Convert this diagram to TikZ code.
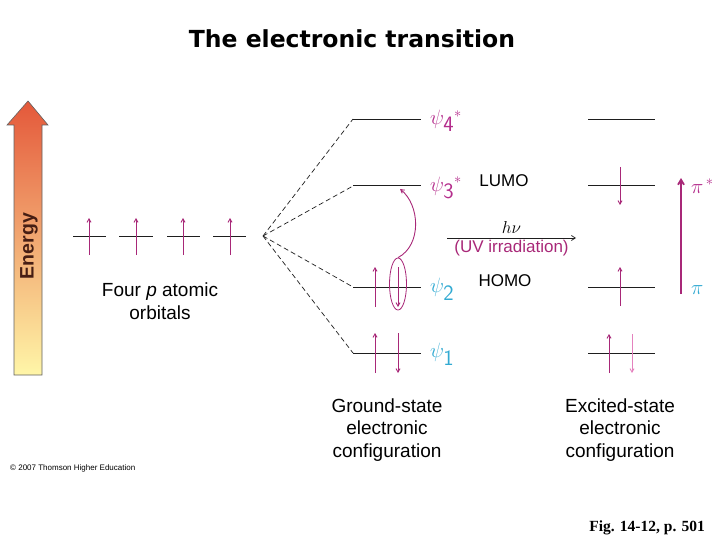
\documentclass[tikz,border=0pt]{standalone}
\usepackage{fontspec}
\usepackage{tikz}
\usetikzlibrary{arrows.meta,shapes.geometric}
\newfontfamily\labfont{Liberation Sans}
\newfontfamily\titlefont{DejaVu Sans}
\newfontfamily\figfont{Liberation Serif}
\definecolor{figline}{RGB}{30,30,30}
\definecolor{elmag}{RGB}{168,40,120}
\definecolor{elpale}{RGB}{228,130,190}
\definecolor{lbmag}{RGB}{180,45,140}
\definecolor{lbcyan}{RGB}{50,170,210}
\definecolor{entop}{RGB}{228,88,58}
\definecolor{enbot}{RGB}{255,246,168}
\definecolor{entext}{RGB}{70,30,20}
\tikzset{
  lvl/.style  ={draw=figline, line width=1pt},
  lvlt/.style ={draw=figline, line width=0.7pt},
  cor/.style  ={draw=figline, line width=0.7pt, dash pattern=on 5pt off 3pt},
  eup/.style  ={draw=elmag, line width=0.9pt, -{Straight Barb[length=3.5pt,width=4pt]}},
  epl/.style  ={draw=elpale, line width=0.9pt, -{Straight Barb[length=3.5pt,width=4pt]}},
  lab/.style  ={font=\labfont\fontsize{19}{22.5}\selectfont, inner sep=1pt, align=center},
  labs/.style ={font=\labfont\fontsize{17}{19}\selectfont, inner sep=1pt},
  mol/.style  ={font=\fontsize{22}{24}\selectfont, inner sep=1pt, anchor=west},
}

\begin{document}
\begin{tikzpicture}[x=1pt,y=-1pt]
  \useasboundingbox (0,0) rectangle (720,540);
  % title
  \node[font=\titlefont\bfseries\fontsize{23.5}{26}\selectfont] (title) at (352,39) {The electronic transition};
  % energy arrow
  \shade[top color=entop,bottom color=enbot] (14,375) -- (14,125) -- (7,125) -- (28,101) -- (48,125) -- (42,125) -- (42,375) -- cycle;
  \draw[draw=figline!70,line width=0.6pt] (14,375) -- (14,125) -- (7,125) -- (28,101) -- (48,125) -- (42,125) -- (42,375) -- cycle;
  \node[font=\labfont\bfseries\fontsize{19.5}{21}\selectfont,text=entext,rotate=90] (energy) at (29,246) {Energy};
  % four p atomic orbitals
  \foreach \xa/\xb/\xe in {73/106/89, 119/153/136, 167/200/183, 213/246/230}{
    \draw[lvlt] (\xa,236) -- (\xb,236);
    \draw[eup] (\xe,255) -- (\xe,218);
  }
  \node[lab] (fourp) at (160,301) {Four \textit{p} atomic\\orbitals};
  % ground state levels
  \coordinate (conv) at (263,236);
  \coordinate (g4l) at (353,119); \coordinate (g4r) at (421,119);
  \coordinate (g3l) at (353,186); \coordinate (g3r) at (421,186);
  \coordinate (g2l) at (353,287); \coordinate (g2r) at (421,287);
  \coordinate (g1l) at (353,353); \coordinate (g1r) at (421,353);
  \draw[lvlt] (g4l) -- (g4r);
  \draw[lvl] (g3l) -- (g3r);
  \draw[lvl] (g2l) -- (g2r);
  \draw[lvlt] (g1l) -- (g1r);
  \draw[cor] (conv) -- (g4l);
  \draw[cor] (conv) -- (g3l);
  \draw[cor] (conv) -- (g2l);
  \draw[cor] (conv) -- (g1l);
  \node[mol,text=lbmag] (psi4) at (429,121) {$\psi_{\textsf{4}}{}^{*}$};
  \node[mol,text=lbmag] (psi3) at (429,188) {$\psi_{\textsf{3}}{}^{*}$};
  \node[mol,text=lbcyan] (psi2) at (429,289) {$\psi_{\textsf{2}}$};
  \node[mol,text=lbcyan] (psi1) at (429,354) {$\psi_{\textsf{1}}$};
  \node[labs] (lumo) at (504,181) {LUMO};
  \node[labs] (homo) at (505,281) {HOMO};
  % ground state electrons
  \draw[eup] (375,307) -- (375,267);
  \draw[eup] (398,267) -- (398,307);
  \draw[eup] (375,373) -- (375,333);
  \draw[eup] (398,333) -- (398,373);
  \node[draw=elmag,line width=0.8pt,ellipse,minimum width=17pt,minimum height=52pt,inner sep=0pt] (hole) at (398,284) {};
  \draw[eup] (hole.north) .. controls (422,245) and (420,205) .. (400,189);
  % irradiation
  \coordinate (hvs) at (447,238); \coordinate (hve) at (576,238);
  \draw[draw=figline,line width=0.7pt,-{Straight Barb[length=4pt,width=5pt]}] (hvs) -- (hve)
    node[midway,above=1pt,font=\fontsize{18}{20}\selectfont] (hnu) {$h\nu$}
    node[midway,below=1pt,labs,text=elmag] (uv) {(UV irradiation)};
  % excited state levels
  \coordinate (e4l) at (588,119); \coordinate (e4r) at (655,119);
  \coordinate (e3l) at (588,186); \coordinate (e3r) at (655,186);
  \coordinate (e2l) at (588,287); \coordinate (e2r) at (655,287);
  \coordinate (e1l) at (588,353); \coordinate (e1r) at (655,353);
  \draw[lvlt] (e4l) -- (e4r);
  \draw[lvl] (e3l) -- (e3r);
  \draw[lvl] (e2l) -- (e2r);
  \draw[lvlt] (e1l) -- (e1r);
  \draw[eup] (620,167) -- (620,205);
  \draw[eup] (620,306) -- (620,267);
  \draw[eup] (609,373) -- (609,334);
  \draw[epl] (632,334) -- (632,373);
  % pi to pi* arrow
  \coordinate (pib) at (681,294); \coordinate (pit) at (681,178);
  \draw[draw=elmag,line width=1.8pt,-{Straight Barb[length=5pt,width=6pt]}] (pib) -- (pit);
  \node[mol,text=lbmag] (pistar) at (690,186) {$\pi^{\,*}$};
  \node[mol,text=lbcyan] (pi) at (690,290) {$\pi$};
  % captions
  \node[lab] (ground) at (387,430) {Ground-state\\electronic\\configuration};
  \node[lab] (excited) at (620,430) {Excited-state\\electronic\\configuration};
  \node[font=\labfont\fontsize{8}{9}\selectfont,anchor=west,inner sep=0pt] (copy) at (10,468) {\textcopyright\ 2007 Thomson Higher Education};
  \node[font=\figfont\bfseries\fontsize{15.5}{17}\selectfont,anchor=east,inner sep=0pt] (fig) at (705,528) {Fig. 14-12, p. 501};
\end{tikzpicture}
\end{document}
